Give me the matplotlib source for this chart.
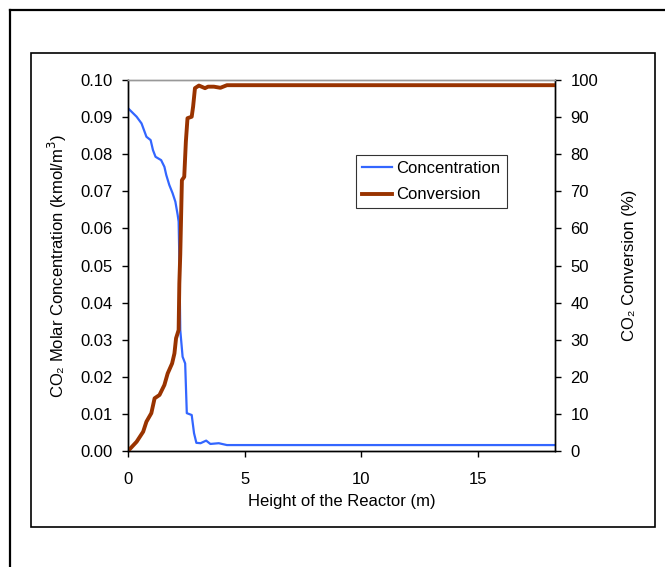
import matplotlib.pyplot as plt
from matplotlib.patches import Rectangle
from matplotlib.lines import Line2D

plt.rcParams['font.family'] = ['Liberation Sans', 'DejaVu Sans']

# CO2 concentration along the reactor (kmol/m3)
h_conc = [0.0, 0.37, 0.58, 0.79, 0.97, 1.07, 1.18, 1.42, 1.56, 1.64, 1.77, 1.91,
          2.03, 2.13, 2.17, 2.20, 2.24, 2.34, 2.45, 2.52, 2.73, 2.83, 2.93, 3.11,
          3.35, 3.53, 3.89, 4.24, 10.0, 18.3]
conc = [0.0924, 0.0901, 0.0883, 0.0847, 0.0838, 0.0811, 0.0793, 0.0784, 0.0766,
        0.0744, 0.0717, 0.0695, 0.0672, 0.0636, 0.0618, 0.0520, 0.0326, 0.0254,
        0.0236, 0.0102, 0.0097, 0.0048, 0.0022, 0.0021, 0.0028, 0.0019, 0.0021,
        0.0016, 0.0016, 0.0016]

# CO2 conversion along the reactor (%)
h_conv = [0.0, 0.37, 0.65, 0.79, 1.00, 1.14, 1.35, 1.56, 1.70, 1.89, 1.99, 2.06,
          2.17, 2.20, 2.24, 2.31, 2.41, 2.48, 2.55, 2.73, 2.79, 2.87, 3.04, 3.30,
          3.43, 3.68, 3.96, 4.24, 10.0, 18.3]
conv = [0.0, 2.5, 5.2, 7.9, 10.2, 14.2, 15.1, 17.8, 20.9, 23.6, 26.3, 30.4,
        32.6, 45.2, 53.0, 73.0, 73.9, 83.4, 89.7, 90.1, 92.8, 97.8, 98.5, 97.8,
        98.2, 98.2, 97.9, 98.6, 98.6, 98.6]

fs = 12

fig = plt.figure(figsize=(6.65, 5.67), dpi=100)

# outer page border (left and top) and the chart box
fig.add_artist(Line2D([10/665, 10/665], [0, 1 - 10/567], color='black', lw=1.6,
                      transform=fig.transFigure))
fig.add_artist(Line2D([10/665, 1], [1 - 10/567, 1 - 10/567], color='black', lw=1.6,
                      transform=fig.transFigure))
fig.add_artist(Rectangle((31/665, 1 - 527/567), (655 - 31)/665, (527 - 53)/567,
                         fill=False, edgecolor='black', lw=1.2,
                         transform=fig.transFigure))

ax = fig.add_axes([128/665, 1 - 451/567, (555 - 128)/665, (451 - 80)/567])
ax2 = ax.twinx()

l1, = ax.plot(h_conc, conc, color='#3366FF', lw=1.6, label='Concentration')
l2, = ax2.plot(h_conv, conv, color='#993300', lw=2.8, label='Conversion')

ax.set_xlim(0, 18.3)
ax.set_ylim(0, 0.10)
ax2.set_ylim(0, 100)
ax.set_xticks([0, 5, 10, 15])
ax.set_yticks([i / 100 for i in range(11)])
ax.set_yticklabels([f'{i/100:.2f}' for i in range(11)])
ax2.set_yticks(range(0, 101, 10))

for a in (ax, ax2):
    a.tick_params(direction='out', length=4, width=1, labelsize=fs)
    for s in a.spines.values():
        s.set_color('black')
        s.set_linewidth(1)
    a.spines['top'].set_color('#999999')
ax.tick_params(axis='x', pad=11)
ax.tick_params(axis='y', pad=7)
ax2.tick_params(axis='y', pad=7)

ax.set_xlabel('Height of the Reactor (m)', fontsize=fs, labelpad=5)
ax.set_ylabel('CO₂ Molar Concentration (kmol/m$^3$)', fontsize=fs, labelpad=8.5)
ax2.set_ylabel('CO₂ Conversion (%)', fontsize=fs, labelpad=17)

leg = ax2.legend(handles=[l1, l2], loc='center', bbox_to_anchor=(0.711, 0.726),
                 fontsize=fs, frameon=True, fancybox=False, handlelength=1.75,
                 borderpad=0.36, labelspacing=0.7, handletextpad=0.3,
                 borderaxespad=0)
leg.get_frame().set_edgecolor('black')
leg.get_frame().set_linewidth(0.8)

fig.savefig('out.png', dpi=100)
